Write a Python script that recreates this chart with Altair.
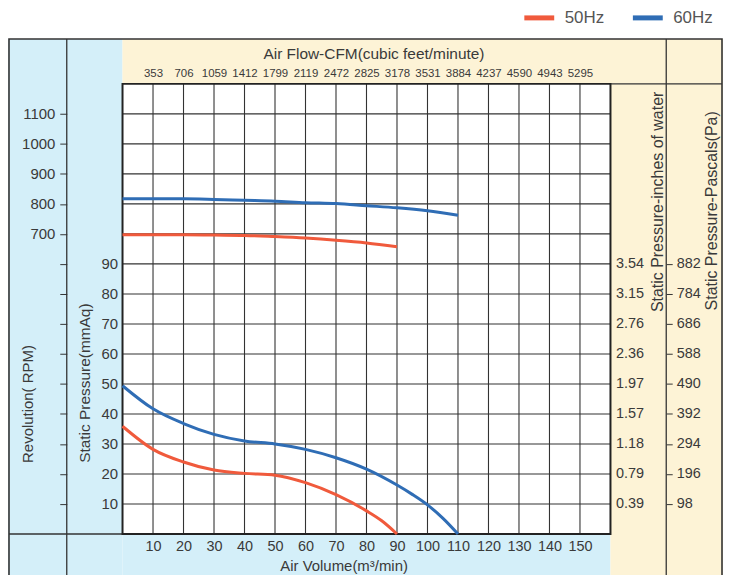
import altair as alt
import pandas as pd

# ---------------- data ----------------
q50 = [0, 10, 20, 30, 40, 50, 60, 70, 80, 85, 90]
p50 = [35.9, 28.2, 24.0, 21.3, 20.2, 19.6, 17.1, 13.1, 7.7, 4.4, 0.0]
q60 = [0, 10, 20, 30, 40, 50, 60, 70, 80, 90, 95, 100, 105, 110]
p60 = [49.4, 41.7, 36.8, 33.2, 31.0, 30.0, 28.2, 25.4, 21.6, 16.3, 13.2, 9.7, 5.3, 0.0]

rq50 = [0, 10, 20, 30, 40, 50, 60, 70, 80, 90]
rpm50 = [697, 697, 697, 696, 695, 691, 686, 679, 670, 657]
rq60 = [0, 10, 20, 30, 40, 50, 60, 70, 80, 90, 100, 110]
rpm60 = [817, 817, 817, 815, 812, 809, 804, 801, 794, 787, 777, 762]

x_ticks = [10, 20, 30, 40, 50, 60, 70, 80, 90, 100, 110, 120, 130, 140, 150]
cfm_labels = ["353", "706", "1059", "1412", "1799", "2119", "2472", "2825",
              "3178", "3531", "3884", "4237", "4590", "4943", "5295"]
grid_y = [10, 20, 30, 40, 50, 60, 70, 80, 90, 100, 110, 120, 130, 140]
mmaq_ticks = [10, 20, 30, 40, 50, 60, 70, 80, 90]
inch_labels = ["0.39", "0.79", "1.18", "1.57", "1.97", "2.36", "2.76", "3.15", "3.54"]
pa_ticks = [98, 196, 294, 392, 490, 588, 686, 784, 882]
rpm_ticks = [-200, -100, 0, 100, 200, 300, 400, 500, 600, 700, 800, 900, 1000, 1100]
series = ["50Hz", "60Hz"]
colors = ["#f05a3c", "#2f6db5"]

pressure = pd.DataFrame({
    "Q": q50 + q60,
    "P": p50 + p60,
    "Hz": ["50Hz"] * len(q50) + ["60Hz"] * len(q60),
})
rpm = pd.DataFrame({
    "Q": rq50 + rq60,
    "RPM": rpm50 + rpm60,
    "Hz": ["50Hz"] * len(rq50) + ["60Hz"] * len(rq60),
})
gx = pd.DataFrame({"g": x_ticks})
gy = pd.DataFrame({"g": grid_y})
one = pd.DataFrame({"k": [0]})

FONT = "Liberation Sans"
TXT = "#3a3a3a"
BLUE_BG = "#d4eff9"
CREAM = "#fdf3d6"
LINE = "#333333"

W, H = 490, 452
xs = alt.Scale(domain=[0, 160], nice=False, zero=False)
ys = alt.Scale(domain=[0, 150], nice=False, zero=False)

color = alt.Color(
    "Hz:N",
    scale=alt.Scale(domain=series, range=colors),
    legend=alt.Legend(
        title=None, orient="none", direction="horizontal",
        legendX=401, legendY=-84, symbolType="stroke", symbolSize=900,
        symbolStrokeWidth=5, labelFontSize=17, labelColor="#555555",
        labelFont=FONT, labelOffset=8, columnPadding=18,
    ),
)

# ---------------- decorative panels ----------------
def rect(x, x2, y, y2, fill):
    return alt.Chart(one).mark_rect(fill=fill, strokeWidth=0).encode(
        x=alt.value(x), x2=alt.value(x2), y=alt.value(y), y2=alt.value(y2))

def rule(x, x2, y, y2, w=1.3):
    return alt.Chart(one).mark_rule(color=LINE, strokeWidth=w).encode(
        x=alt.value(x), x2=alt.value(x2), y=alt.value(y), y2=alt.value(y2))

bg = [
    rect(-115, 0, -45, 500, BLUE_BG),
    rect(0, W, H, 500, BLUE_BG),
    rect(0, 603, -45, 0, CREAM),
    rect(W, 603, 0, 500, CREAM),
]
lines = [
    rule(-56, -56, -45, 500),
    rule(546, 546, -45, 500),
    rule(-114, W, H, H),
    rule(W, 602, 0, 0),
    alt.Chart(one).mark_rect(fillOpacity=0, stroke=LINE, strokeWidth=1.6).encode(
        x=alt.value(-114), x2=alt.value(602), y=alt.value(-45), y2=alt.value(520)),
]

# ---------------- grid ----------------
grid_v = alt.Chart(gx).mark_rule(color=LINE, strokeWidth=1.1).encode(
    x=alt.X("g:Q", scale=xs, axis=None))
grid_h = alt.Chart(gy).mark_rule(color=LINE, strokeWidth=1.1).encode(
    y=alt.Y("g:Q", scale=ys, axis=None))
border = alt.Chart(one).mark_rect(fillOpacity=0, stroke="#222222", strokeWidth=2).encode(
    x=alt.value(0), x2=alt.value(W), y=alt.value(0), y2=alt.value(H))

# ---------------- pressure curves (bottom x axis, mmAq axis) ----------------
p_layer = alt.Chart(pressure).mark_line(strokeWidth=3, interpolate="monotone").encode(
    x=alt.X("Q:Q", scale=xs, axis=alt.Axis(
        orient="bottom", values=x_ticks, grid=False, zindex=2,
        ticks=False, domain=False, labelFontSize=14.5, labelFont=FONT, labelColor=TXT,
        labelPadding=6, title="Air Volume(m³/min)", titleFontSize=15, titleFont=FONT,
        titleFontWeight="normal", titleColor=TXT, titleX=222, titleY=32,
        titleBaseline="middle")),
    y=alt.Y("P:Q", scale=ys, axis=alt.Axis(
        orient="left", values=mmaq_ticks, grid=False, zindex=2,
        ticks=False, domain=False, labelFontSize=15, labelFont=FONT, labelColor=TXT,
        labelPadding=5,
        title="Static Pressure(mmAq)", titleFontSize=15.5, titleFont=FONT,
        titleFontWeight="normal", titleColor=TXT, titleX=-38, titleY=300,
        titleAngle=270, titleBaseline="middle")),
    color=color,
)

# ---------------- rpm curves (top CFM axis, RPM axis) ----------------
cfm_expr = "[" + ",".join("'%s'" % s for s in cfm_labels) + "][round(datum.value / 10) - 1]"
r_layer = alt.Chart(rpm).mark_line(strokeWidth=3, interpolate="monotone").encode(
    x=alt.X("Q:Q", scale=xs, axis=alt.Axis(
        orient="top", values=x_ticks, grid=False, ticks=False, domain=False, zindex=2,
        labelExpr=cfm_expr, labelFontSize=11.5, labelFont=FONT,
        labelColor=TXT, labelPadding=5,
        title="Air Flow-CFM(cubic feet/minute)", titleFontSize=15.5, titleFont=FONT,
        titleFontWeight="normal", titleColor=TXT, titleX=252, titleY=-30,
        titleBaseline="middle")),
    y=alt.Y("RPM:Q", scale=alt.Scale(domain=[-300, 1200], nice=False, zero=False),
            axis=alt.Axis(
        orient="left", offset=56, values=rpm_ticks, grid=False, domain=False, zindex=2,
        ticks=True, tickSize=7, tickColor=LINE, labelFontSize=15, labelFont=FONT,
        labelColor=TXT, labelPadding=5,
        labelExpr="datum.value >= 700 ? format(datum.value, 'd') : ''",
        title="Revolution( RPM)", titleFontSize=15, titleFont=FONT,
        titleFontWeight="normal", titleColor=TXT, titleX=-39, titleY=321,
        titleAngle=270, titleBaseline="middle")),
    color=color,
)

# ---------------- right axes (inches of water, pascals) ----------------
inch_expr = "[" + ",".join("'%s'" % s for s in inch_labels) + "][round(datum.value / 10) - 1]"
inch_layer = alt.Chart(pressure).mark_point(opacity=0).encode(
    x=alt.X("Q:Q", scale=xs, axis=None),
    y=alt.Y("P:Q", scale=ys, axis=alt.Axis(
        orient="right", values=mmaq_ticks, grid=False, ticks=False, domain=False,
        zindex=2, labelExpr=inch_expr, labelFontSize=14.5, labelFont=FONT,
        labelColor=TXT, labelPadding=5, title="Static Pressure-inches of water",
        titleFontSize=16, titleFont=FONT, titleFontWeight="normal", titleColor=TXT,
        titleX=47, titleY=118, titleAngle=270, titleBaseline="middle")),
)
pa_layer = alt.Chart(pressure).mark_point(opacity=0).encode(
    x=alt.X("Q:Q", scale=xs, axis=None),
    y=alt.Y("P:Q", scale=alt.Scale(domain=[0, 1470], nice=False, zero=False),
            axis=alt.Axis(
        orient="right", offset=56, values=pa_ticks, grid=False, domain=False,
        zindex=2, ticks=True, tickSize=6, tickColor=LINE, labelFontSize=14.5,
        labelFont=FONT, labelColor=TXT, labelPadding=4,
        title="Static Pressure-Pascals(Pa)", titleFontSize=16, titleFont=FONT,
        titleFontWeight="normal", titleColor=TXT, titleX=45, titleY=127,
        titleAngle=270, titleBaseline="middle")),
)

chart = alt.layer(
    *bg, *lines, grid_v, grid_h, border, p_layer, r_layer, inch_layer, pa_layer
).resolve_scale(
    x="independent", y="independent"
).properties(
    width=W, height=H,
    padding={"left": 115, "top": 75, "right": 113, "bottom": 40},
    autosize=alt.AutoSizeParams(type="none"),
    background="white",
).configure_view(
    fill="white", stroke=None,
)

chart.save("out.html", embed_options={"renderer": "svg", "actions": False})
